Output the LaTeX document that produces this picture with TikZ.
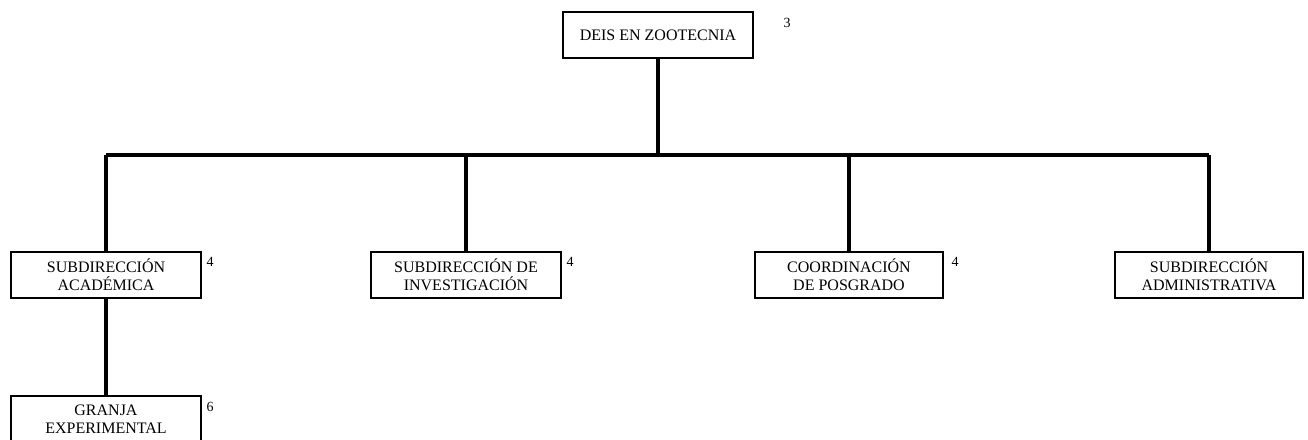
\documentclass[tikz,border=0pt]{standalone}
\usepackage{fontspec}
\setmainfont{Liberation Serif}
\usepackage{tikz}
\usetikzlibrary{positioning, calc}
\tikzstyle{unit} = [rectangle, draw=black, line width=0.9pt, minimum width=142.5pt, minimum height=34.5pt, align=center, inner sep=2pt, font=\fontsize{12}{13.5}\selectfont]
\tikzstyle{level} = [font=\fontsize{10.5}{12}\selectfont, inner sep=0pt]
\tikzstyle{link} = [line width=3pt]
\begin{document}
\begin{tikzpicture}[x=0.75pt, y=-0.75pt]
    \useasboundingbox (0,0) rectangle (1308,439);
    % Direction
    \node[unit] (deis) at (658,35) {DEIS EN ZOOTECNIA};
    \node[level] (deisnum) at (787,23) {3};
    \coordinate (bar) at (658,155);

    % Subdirecciones
    \node[unit] (acad) at (106,275) {SUBDIRECCIÓN\\ACADÉMICA};
    \node[unit] (inv) at (466,275) {SUBDIRECCIÓN DE\\INVESTIGACIÓN};
    \node[unit, minimum width=141pt] (posg) at (849,275) {COORDINACIÓN\\DE POSGRADO};
    \node[unit, minimum width=141pt] (admin) at (1209,275) {SUBDIRECCIÓN\\ADMINISTRATIVA};
    \node[level] (acadnum) at (210,262) {4};
    \node[level] (invnum) at (570,262) {4};
    \node[level] (posgnum) at (955,262) {4};

    % Granja
    \node[unit] (granja) at (106,419) {GRANJA\\EXPERIMENTAL};
    \node[level] (granjanum) at (210,407) {6};

    % Connections
    \draw[link] (deis.south) -- (bar);
    \draw[link] (acad.north |- bar) -- (admin.north |- bar);
    \draw[link] (acad.north |- bar) -- (acad.north);
    \draw[link] (inv.north |- bar) -- (inv.north);
    \draw[link] (posg.north |- bar) -- (posg.north);
    \draw[link] (admin.north |- bar) -- (admin.north);
    \draw[link] (acad.south) -- (granja.north);
\end{tikzpicture}
\end{document}
